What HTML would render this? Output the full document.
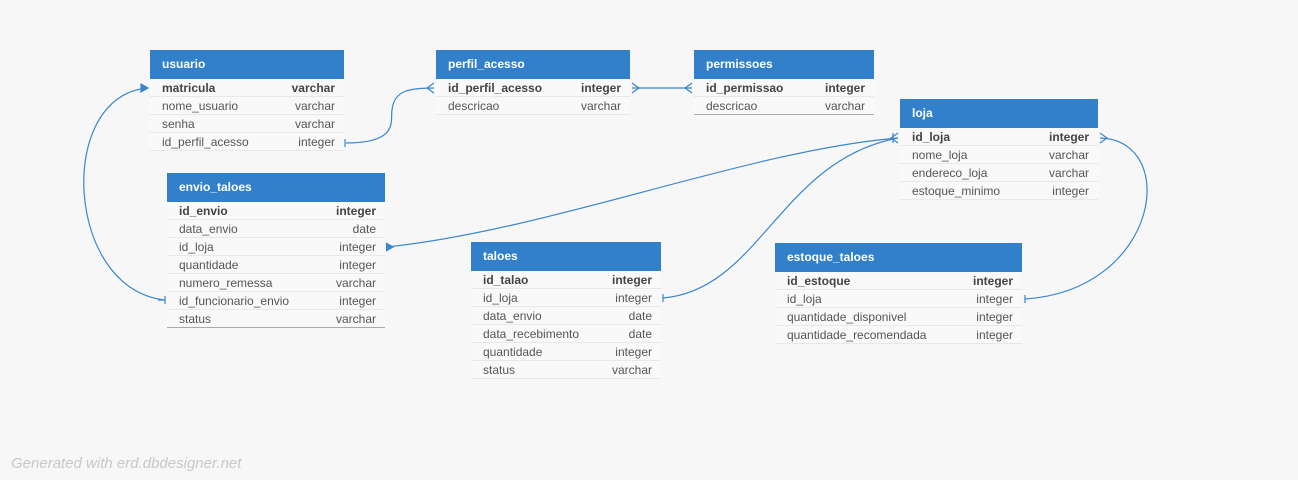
<!DOCTYPE html>
<html><head><style>
body{margin:0;width:1298px;height:480px;background:#f7f7f8;font-family:"Liberation Sans",Arial,sans-serif;position:relative;overflow:hidden}
.t{position:absolute}
.h{background:#3180c9;color:#fff;font-weight:bold;font-size:12px;height:29px;line-height:28px;padding-left:12px;box-sizing:border-box}
.r{height:18px;line-height:19px;font-size:12px;color:#555;border-bottom:1px solid #e8e8e8;padding:0 9px 0 12px;display:flex;justify-content:space-between;box-sizing:border-box;background:#f9f9f9}
.r.b{font-weight:bold;color:#444}
.last{border-bottom:1px solid #aaa}
.foot{position:absolute;left:11px;top:455px;font-size:15px;font-style:italic;color:#c8c8c8}
svg{position:absolute;left:0;top:0}
</style></head><body>
<svg width="1298" height="480" fill="none" stroke="#3a86cf" stroke-width="1.2">
<path d="M346 143 C400 143 390 120 392 110 C394 90 410 88 434 88"/>
<path d="M434 83 L427 88 L434 93"/>
<path d="M632 88 L692 88"/>
<path d="M632 83 L639 88 L632 93 M692 83 L685 88 L692 93"/>
<path d="M148 88 C55 95 65 290 165 300"/>
<path d="M387 247 C550 230 750 150 898 138"/>
<path d="M663 298 C760 290 780 160 898 138"/>
<path d="M898 133 L891 138 L898 143 M893 133 V143"/>
<path d="M1100 138 C1180 140 1160 290 1025 299"/>
<path d="M1100 133 L1107 138 L1100 143"/>
<path d="M141 84 L148 88 L141 92 Z M158 300 L165 300 M386 243 L393 247 L386 251 M663 294 V302 M345 139 V147 M165 296 V304 M1025 295 V303" fill="#3a86cf"/>
</svg>
<div class="t" style="left:150px;top:50px;width:194px"><div class="h">usuario</div>
<div class="r b"><span>matricula</span><span>varchar</span></div>
<div class="r"><span>nome_usuario</span><span>varchar</span></div>
<div class="r"><span>senha</span><span>varchar</span></div>
<div class="r"><span>id_perfil_acesso</span><span>integer</span></div></div>
<div class="t" style="left:436px;top:50px;width:194px"><div class="h">perfil_acesso</div>
<div class="r b"><span>id_perfil_acesso</span><span>integer</span></div>
<div class="r"><span>descricao</span><span>varchar</span></div></div>
<div class="t" style="left:694px;top:50px;width:180px"><div class="h">permissoes</div>
<div class="r b"><span>id_permissao</span><span>integer</span></div>
<div class="r last"><span>descricao</span><span>varchar</span></div></div>
<div class="t" style="left:900px;top:99px;width:198px"><div class="h">loja</div>
<div class="r b"><span>id_loja</span><span>integer</span></div>
<div class="r"><span>nome_loja</span><span>varchar</span></div>
<div class="r"><span>endereco_loja</span><span>varchar</span></div>
<div class="r"><span>estoque_minimo</span><span>integer</span></div></div>
<div class="t" style="left:167px;top:173px;width:218px"><div class="h">envio_taloes</div>
<div class="r b"><span>id_envio</span><span>integer</span></div>
<div class="r"><span>data_envio</span><span>date</span></div>
<div class="r"><span>id_loja</span><span>integer</span></div>
<div class="r"><span>quantidade</span><span>integer</span></div>
<div class="r"><span>numero_remessa</span><span>varchar</span></div>
<div class="r"><span>id_funcionario_envio</span><span>integer</span></div>
<div class="r last"><span>status</span><span>varchar</span></div></div>
<div class="t" style="left:471px;top:242px;width:190px"><div class="h">taloes</div>
<div class="r b"><span>id_talao</span><span>integer</span></div>
<div class="r"><span>id_loja</span><span>integer</span></div>
<div class="r"><span>data_envio</span><span>date</span></div>
<div class="r"><span>data_recebimento</span><span>date</span></div>
<div class="r"><span>quantidade</span><span>integer</span></div>
<div class="r"><span>status</span><span>varchar</span></div></div>
<div class="t" style="left:775px;top:243px;width:247px"><div class="h">estoque_taloes</div>
<div class="r b"><span>id_estoque</span><span>integer</span></div>
<div class="r"><span>id_loja</span><span>integer</span></div>
<div class="r"><span>quantidade_disponivel</span><span>integer</span></div>
<div class="r"><span>quantidade_recomendada</span><span>integer</span></div></div>
<div class="foot">Generated with erd.dbdesigner.net</div>
</body></html>
